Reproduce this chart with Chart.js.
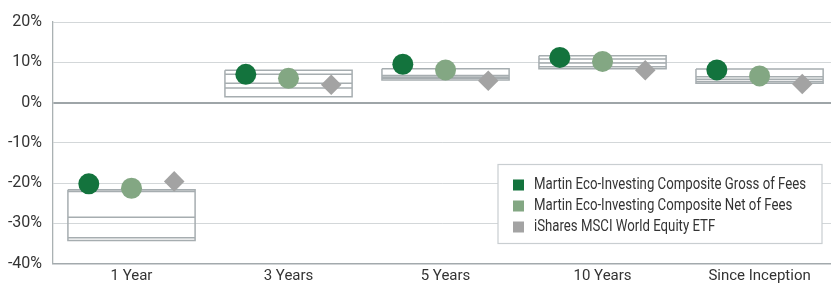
<!DOCTYPE html>
<html lang="en">
<head>
  <meta charset="utf-8">
  <title>Annualized Returns vs Peer Range</title>
  <script src="https://cdn.jsdelivr.net/npm/chart.js@4.4.1/dist/chart.umd.min.js"></script>
  <style>
    html, body { margin: 0; padding: 0; background: #fff; }
    #wrap { width: 831px; height: 287px; }
  </style>
</head>
<body>
  <div id="wrap"><canvas id="myChart" width="831" height="287"></canvas></div>
  <script>
    // categories + series (percent)
    var categories = ['1 Year', '3 Years', '5 Years', '10 Years', 'Since Inception'];
    var grossFees = [-20.2, 7.0, 9.5, 11.2, 8.1];
    var netFees = [-21.3, 6.0, 8.1, 10.2, 6.6];
    var etfReturns = [-19.6, 4.4, 5.4, 8.0, 4.6];

    // peer range lines, top to bottom
    var peerTop = [-21.7, 8.0, 8.4, 11.6, 8.3];
    var peerUpper = [-22.1, 7.0, 6.7, 10.8, 6.4];
    var peerMedian = [-28.5, 4.8, 6.3, 9.8, 5.8];
    var peerLower = [-33.6, 3.6, 6.0, 8.9, 5.2];
    var peerBottom = [-34.3, 1.4, 5.6, 8.4, 4.8];

    var yTicks = [-40, -30, -20, -10, 0, 10, 20];
    var seriesNames = [
      'Martin Eco-Investing Composite Gross of Fees',
      'Martin Eco-Investing Composite Net of Fees',
      'iShares MSCI World Equity ETF'
    ];

    var FONT = "Roboto, 'Liberation Sans', sans-serif";
    var boxHalf = 0.405;   // half width of the peer box, in category units
    var shift = 0.272;     // marker offset from category centre

    function points(values, dx) {
      return values.map(function (v, i) { return { x: i + dx, y: v }; });
    }

    // build box outlines + inner lines as one broken polyline
    var boxData = [];
    for (var i = 0; i < categories.length; i++) {
      var l = i - boxHalf, r = i + boxHalf;
      boxData.push({ x: l, y: peerTop[i] }, { x: r, y: peerTop[i] }, { x: r, y: peerBottom[i] },
        { x: l, y: peerBottom[i] }, { x: l, y: peerTop[i] }, { x: l, y: null });
      [peerUpper, peerMedian, peerLower].forEach(function (arr) {
        boxData.push({ x: l, y: arr[i] }, { x: r, y: arr[i] }, { x: r, y: null });
      });
    }

    var colors = ['#13733d', '#83a783', '#a3a3a3'];

    var legendBox = {
      id: 'legendBox',
      afterDatasetsDraw: function (chart) {
        var ctx = chart.ctx, area = chart.chartArea;
        var w = 324, h = 79;
        var x = area.right - 9 - w, y = area.bottom - 20 - h;
        ctx.save();
        ctx.fillStyle = '#ffffff';
        ctx.fillRect(x, y, w, h);
        ctx.strokeStyle = '#c9ced1';
        ctx.lineWidth = 1.2;
        ctx.strokeRect(x, y, w, h);
        ctx.font = '16px ' + FONT;
        ctx.textBaseline = 'middle';
        // squeeze text to a condensed look, longest line ~272px
        var sx = Math.min(1, 272 / ctx.measureText(seriesNames[0]).width);
        for (var k = 0; k < seriesNames.length; k++) {
          var cy = y + 20.5 + k * 21;
          ctx.fillStyle = colors[k];
          ctx.fillRect(x + 15, cy - 5.5, 11, 11);
          ctx.fillStyle = '#333333';
          ctx.save();
          ctx.translate(x + 36, cy);
          ctx.scale(sx, 1);
          ctx.fillText(seriesNames[k], 0, 0);
          ctx.restore();
        }
        ctx.restore();
      }
    };

    var ctx = document.getElementById('myChart');
    var myChart = new Chart(ctx, {
      type: 'scatter',
      data: {
        datasets: [
          {
            label: seriesNames[0],
            data: points(grossFees, -shift),
            backgroundColor: colors[0],
            pointRadius: 10.5,
            borderWidth: 0
          },
          {
            label: seriesNames[1],
            data: points(netFees, 0),
            backgroundColor: colors[1],
            pointRadius: 10.5,
            borderWidth: 0
          },
          {
            label: seriesNames[2],
            data: points(etfReturns, shift),
            backgroundColor: colors[2],
            pointStyle: 'rectRot',
            pointRadius: 10.3,
            borderWidth: 0
          },
          {
            label: 'Peer range',
            type: 'line',
            data: boxData,
            borderColor: '#a6adb0',
            borderWidth: 1.5,
            pointRadius: 0,
            spanGaps: false,
            fill: false
          }
        ]
      },
      options: {
        responsive: false,
        animation: false,
        layout: {
          autoPadding: false, // otherwise the big markers eat into the right edge
          padding: { top: 22, right: 0, left: 0, bottom: 0 }
        },
        plugins: {
          legend: { display: false },
          tooltip: { enabled: false }
        },
        scales: {
          x: {
            type: 'linear',
            min: -0.5,
            max: 4.455,
            afterBuildTicks: function (scale) {
              scale.ticks = categories.map(function (c, i) { return { value: i }; });
            },
            afterFit: function (scale) { scale.height = 23.5; },
            ticks: {
              padding: 4,
              color: '#333333',
              font: { family: FONT, size: 15 },
              maxRotation: 0,
              callback: function (v) { return categories[v]; }
            },
            grid: { drawOnChartArea: false, drawTicks: false },
            border: { display: true, color: '#a3aaad', width: 1.5 }
          },
          y: {
            min: -40,
            max: 20,
            afterBuildTicks: function (scale) {
              scale.ticks = yTicks.map(function (v) { return { value: v }; });
            },
            afterFit: function (scale) { scale.width = 53; },
            ticks: {
              padding: 11,
              color: '#333333',
              font: { family: FONT, size: 16 },
              callback: function (v) { return v + '%'; }
            },
            grid: {
              drawTicks: false,
              color: function (c) { return c.tick && c.tick.value === 0 ? '#9ea5a8' : '#d3d7d9'; },
              lineWidth: function (c) { return c.tick && c.tick.value === 0 ? 2 : 1; }
            },
            border: { display: true, color: '#aab1b3', width: 1.3 }
          }
        }
      },
      plugins: [legendBox]
    });
  </script>
</body>
</html>
